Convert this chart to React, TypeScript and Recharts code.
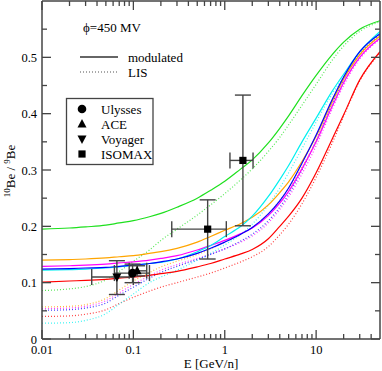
import { ComposedChart, Line, Scatter, ErrorBar, XAxis, YAxis } from 'recharts';

// kinetic energy grid (GeV/n)
const energy = [0.01, 0.02, 0.03, 0.05, 0.07, 0.1, 0.15, 0.2, 0.3, 0.5, 0.7, 1, 1.5, 2, 3, 4, 5, 7, 10, 15, 20, 30, 50];

// modulated / LIS ratio curves
const greenMod = [0.195, 0.197, 0.199, 0.202, 0.206, 0.21, 0.217, 0.223, 0.234, 0.25, 0.264, 0.28, 0.302, 0.318, 0.348, 0.374, 0.396, 0.432, 0.468, 0.505, 0.527, 0.55, 0.565];
const greenLis = [0.086, 0.089, 0.093, 0.105, 0.12, 0.138, 0.158, 0.175, 0.195, 0.22, 0.238, 0.258, 0.283, 0.302, 0.333, 0.358, 0.38, 0.415, 0.452, 0.495, 0.52, 0.546, 0.563];
const orangeMod = [0.14, 0.141, 0.142, 0.144, 0.146, 0.148, 0.152, 0.155, 0.161, 0.172, 0.182, 0.193, 0.205, 0.216, 0.238, 0.26, 0.279, 0.315, 0.36, 0.422, 0.462, 0.505, 0.538];
const orangeLis = [0.057, 0.058, 0.061, 0.072, 0.087, 0.103, 0.118, 0.128, 0.138, 0.15, 0.16, 0.172, 0.186, 0.198, 0.222, 0.246, 0.267, 0.305, 0.352, 0.418, 0.458, 0.503, 0.537];
const magentaMod = [0.129, 0.13, 0.131, 0.133, 0.135, 0.137, 0.14, 0.143, 0.148, 0.158, 0.166, 0.175, 0.187, 0.197, 0.219, 0.241, 0.262, 0.302, 0.35, 0.413, 0.455, 0.5, 0.534];
const magentaLis = [0.054, 0.055, 0.058, 0.068, 0.082, 0.097, 0.112, 0.122, 0.132, 0.143, 0.151, 0.16, 0.172, 0.183, 0.206, 0.23, 0.252, 0.293, 0.343, 0.408, 0.45, 0.497, 0.532];
const blueMod = [0.124, 0.125, 0.126, 0.127, 0.129, 0.131, 0.134, 0.137, 0.142, 0.152, 0.161, 0.172, 0.186, 0.198, 0.222, 0.245, 0.268, 0.312, 0.362, 0.425, 0.465, 0.51, 0.542];
const blueLis = [0.051, 0.052, 0.055, 0.064, 0.078, 0.092, 0.108, 0.118, 0.129, 0.141, 0.15, 0.16, 0.174, 0.186, 0.21, 0.234, 0.257, 0.3, 0.352, 0.418, 0.46, 0.505, 0.54];
const cyanMod = [0.122, 0.123, 0.124, 0.126, 0.128, 0.131, 0.134, 0.136, 0.142, 0.155, 0.166, 0.182, 0.2, 0.218, 0.253, 0.283, 0.308, 0.35, 0.392, 0.44, 0.47, 0.51, 0.546];
const cyanLis = [0.028, 0.029, 0.033, 0.045, 0.062, 0.08, 0.1, 0.11, 0.122, 0.14, 0.152, 0.167, 0.186, 0.204, 0.238, 0.268, 0.295, 0.338, 0.385, 0.435, 0.466, 0.507, 0.545];
const redMod = [0.101, 0.103, 0.104, 0.106, 0.108, 0.11, 0.113, 0.116, 0.12, 0.128, 0.134, 0.142, 0.151, 0.159, 0.178, 0.2, 0.218, 0.25, 0.295, 0.355, 0.398, 0.46, 0.51];
const redLis = [0.04, 0.041, 0.044, 0.052, 0.063, 0.074, 0.085, 0.092, 0.1, 0.11, 0.117, 0.126, 0.137, 0.146, 0.164, 0.185, 0.204, 0.24, 0.287, 0.348, 0.395, 0.458, 0.508];

// measurements: energy, ratio, x errors [low, high], y errors [low, high]
const ulysses = [{ e: 0.098, r: 0.117, ex: [0.036, 0.052], ey: [0.017, 0.016] }];
const ace = [{ e: 0.11, r: 0.121, ex: [0.02, 0.03], ey: [0.009, 0.009] }];
const voyager = [{ e: 0.066, r: 0.11, ex: [0.031, 0.034], ey: [0.031, 0.029] }];
const isomax = [
  { e: 0.65, r: 0.195, ex: [0.387, 0.39], ey: [0.053, 0.052] },
  { e: 1.58, r: 0.317, ex: [0.44, 0.46], ey: [0.116, 0.116] },
];

const xMajor = [0.01, 0.1, 1, 10];
const xTicks = [
  0.01, 0.02, 0.03, 0.04, 0.05, 0.06, 0.07, 0.08, 0.09,
  0.1, 0.2, 0.3, 0.4, 0.5, 0.6, 0.7, 0.8, 0.9,
  1, 2, 3, 4, 5, 6, 7, 8, 9,
  10, 20, 30, 40,
];
const yTicks = [0, 0.05, 0.1, 0.15, 0.2, 0.25, 0.3, 0.35, 0.4, 0.45, 0.5, 0.55];

const curves = [
  { mod: greenMod, lis: greenLis, color: '#1ee01e' },
  { mod: orangeMod, lis: orangeLis, color: '#ffa500' },
  { mod: magentaMod, lis: magentaLis, color: '#ff00ff' },
  { mod: redMod, lis: redLis, color: '#ff0000' },
  { mod: cyanMod, lis: cyanLis, color: '#00f0f0' },
  { mod: blueMod, lis: blueLis, color: '#0000ff' },
];

const rows = energy.map((e, i) => {
  const row: Record<string, number> = { e };
  curves.forEach((c, k) => {
    row['m' + k] = c.mod[i];
    row['l' + k] = c.lis[i];
  });
  return row;
});

const FONT = '"Liberation Serif", "Times New Roman", serif';
const AXIS = '#444';

const isMajorX = (v: number) => xMajor.some((m) => Math.abs(m - v) < 1e-9);
const isMajorY = (v: number) => Math.abs(v * 10 - Math.round(v * 10)) < 1e-6;

function BottomTick(props: any) {
  const { x, y, payload } = props;
  const major = isMajorX(payload.value);
  return (
    <g>
      <line x1={x} x2={x} y1={y} y2={y - (major ? 9 : 5)} stroke={AXIS} strokeWidth={1.3} />
      {major && (
        <text x={x} y={y + 14.5} textAnchor="middle" fontFamily={FONT} fontSize={12.5} fill="#000">
          {String(payload.value)}
        </text>
      )}
    </g>
  );
}

function TopTick(props: any) {
  const { x, y, payload } = props;
  const major = isMajorX(payload.value);
  return <line x1={x} x2={x} y1={y} y2={y + (major ? 9 : 5)} stroke={AXIS} strokeWidth={1.3} />;
}

function LeftTick(props: any) {
  const { x, y, payload } = props;
  const major = isMajorY(payload.value);
  return (
    <g>
      <line x1={x} x2={x + (major ? 9 : 5)} y1={y} y2={y} stroke={AXIS} strokeWidth={1.3} />
      {major && (
        <text x={x - 5} y={y + 4.5} textAnchor="end" fontFamily={FONT} fontSize={12.5} fill="#000">
          {payload.value === 0 ? '0' : String(payload.value)}
        </text>
      )}
    </g>
  );
}

function RightTick(props: any) {
  const { x, y, payload } = props;
  const major = isMajorY(payload.value);
  return <line x1={x} x2={x - (major ? 9 : 5)} y1={y} y2={y} stroke={AXIS} strokeWidth={1.3} />;
}

const circleShape = (p: any) => <circle cx={p.cx} cy={p.cy} r={4.3} fill="#000" />;
const upShape = (p: any) => (
  <polygon points={`${p.cx},${p.cy - 5} ${p.cx - 4.5},${p.cy + 3.5} ${p.cx + 4.5},${p.cy + 3.5}`} fill="#000" />
);
const downShape = (p: any) => (
  <polygon points={`${p.cx},${p.cy + 5} ${p.cx - 4.5},${p.cy - 3.5} ${p.cx + 4.5},${p.cy - 3.5}`} fill="#000" />
);
const squareShape = (p: any) => <rect x={p.cx - 3.6} y={p.cy - 3.6} width={7.2} height={7.2} fill="#000" />;

function Overlay() {
  const t = { fontFamily: FONT, fontSize: 13, fill: '#000' };
  return (
    <svg width={382} height={371} style={{ position: 'absolute', left: 0, top: 0, pointerEvents: 'none' }}>
      <text x={83} y={32} {...t}>ϕ=450 MV</text>
      <line x1={80} x2={118} y1={57} y2={57} stroke="#333" strokeWidth={1.3} />
      <text x={128} y={62} {...t}>modulated</text>
      <line x1={80} x2={118} y1={72} y2={72} stroke="#555" strokeWidth={1.1} strokeDasharray="1 2" />
      <text x={128} y={77} {...t}>LIS</text>
      <rect x={66.5} y={98.5} width={86.5} height={66} fill="#fff" stroke="#444" strokeWidth={1.3} />
      {circleShape({ cx: 82, cy: 109 })}
      {upShape({ cx: 82, cy: 124 })}
      {downShape({ cx: 82, cy: 139 })}
      {squareShape({ cx: 82, cy: 154 })}
      <text x={101} y={113.5} {...t}>Ulysses</text>
      <text x={101} y={128.5} {...t}>ACE</text>
      <text x={101} y={143.5} {...t}>Voyager</text>
      <text x={101} y={158.5} {...t}>ISOMAX</text>
      <text x={211} y={367.5} textAnchor="middle" {...t}>E [GeV/n]</text>
      <text transform="translate(15,171) rotate(-90)" textAnchor="middle" {...t}>
        <tspan fontSize={9} dy={-5}>10</tspan>
        <tspan dy={5}>Be / </tspan>
        <tspan fontSize={9} dy={-5}>9</tspan>
        <tspan dy={5}>Be</tspan>
      </text>
    </svg>
  );
}

export default function App() {
  return (
    <div style={{ position: 'absolute', left: 0, top: 0, width: 382, height: 371, background: '#fff' }}>
      <ComposedChart width={382} height={371} data={rows} margin={{ top: 0, right: 0, bottom: 0, left: 0 }}>
        <XAxis
          xAxisId="b"
          dataKey="e"
          type="number"
          scale="log"
          domain={[0.01, 50]}
          allowDataOverflow
          ticks={xTicks}
          interval={0}
          height={32}
          tickSize={0}
          tickMargin={0}
          tickLine={false}
          axisLine={{ stroke: AXIS, strokeWidth: 1.5 }}
          tick={BottomTick}
        />
        <XAxis
          xAxisId="t"
          orientation="top"
          dataKey="e"
          type="number"
          scale="log"
          domain={[0.01, 50]}
          allowDataOverflow
          ticks={xTicks}
          interval={0}
          height={1}
          tickSize={0}
          tickMargin={0}
          tickLine={false}
          axisLine={{ stroke: AXIS, strokeWidth: 1.5 }}
          tick={TopTick}
        />
        <YAxis
          yAxisId="l"
          type="number"
          domain={[0, 0.6]}
          allowDataOverflow
          ticks={yTicks}
          interval={0}
          width={42}
          tickSize={0}
          tickMargin={0}
          tickLine={false}
          axisLine={{ stroke: AXIS, strokeWidth: 1.5 }}
          tick={LeftTick}
        />
        <YAxis
          yAxisId="r"
          orientation="right"
          type="number"
          domain={[0, 0.6]}
          allowDataOverflow
          ticks={yTicks}
          interval={0}
          width={2}
          tickSize={0}
          tickMargin={0}
          tickLine={false}
          axisLine={{ stroke: AXIS, strokeWidth: 1.5 }}
          tick={RightTick}
        />
        {curves.map((c, k) => (
          <Line
            key={'l' + k}
            xAxisId="b"
            yAxisId="l"
            dataKey={'l' + k}
            type="monotone"
            stroke={c.color}
            strokeOpacity={0.75}
            strokeWidth={1.2}
            strokeDasharray="1 2"
            dot={false}
            isAnimationActive={false}
          />
        ))}
        {curves.map((c, k) => (
          <Line
            key={'m' + k}
            xAxisId="b"
            yAxisId="l"
            dataKey={'m' + k}
            type="monotone"
            stroke={c.color}
            strokeWidth={1.2}
            dot={false}
            isAnimationActive={false}
          />
        ))}
        {[
          { d: ulysses, s: circleShape },
          { d: ace, s: upShape },
          { d: voyager, s: downShape },
          { d: isomax, s: squareShape },
        ].map((g, k) => (
          <Scatter
            key={'s' + k}
            xAxisId="b"
            yAxisId="l"
            data={g.d}
            dataKey="r"
            shape={g.s}
            isAnimationActive={false}
          >
            <ErrorBar dataKey="ex" direction="x" width={8} stroke="#444" strokeWidth={1.4} />
            <ErrorBar dataKey="ey" direction="y" width={8} stroke="#444" strokeWidth={1.4} />
          </Scatter>
        ))}
      </ComposedChart>
      <Overlay />
    </div>
  );
}
